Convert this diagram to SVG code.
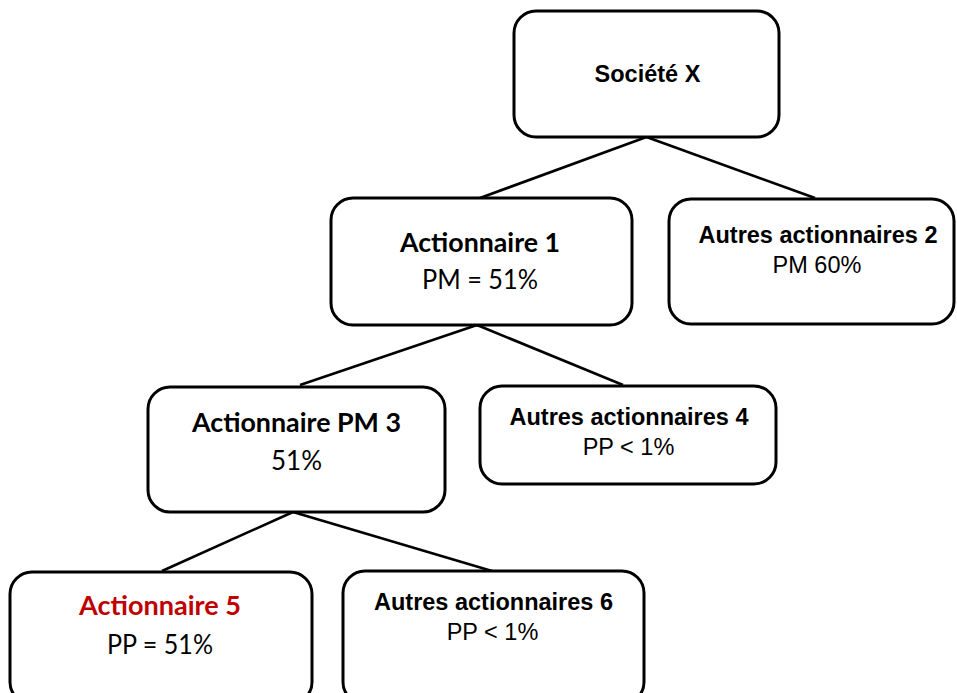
<svg xmlns="http://www.w3.org/2000/svg" width="957" height="693" viewBox="0 0 957 693">
<style>
.box{fill:#fff;stroke:#000;stroke-width:3}
.conn line{stroke:#000;stroke-width:2.6}
.a{font-family:"Liberation Sans",Arial,sans-serif;font-size:23.5px;text-anchor:middle;fill:#000}
.ab{font-family:"Liberation Sans",Arial,sans-serif;font-size:23.5px;font-weight:bold;text-anchor:middle;fill:#000}
.c{font-family:Lato,"Open Sans",sans-serif;font-size:27px;text-anchor:middle;fill:#000}
.cb{font-family:Lato,"Open Sans",sans-serif;font-size:27px;font-weight:bold;text-anchor:middle;fill:#000}
.red{fill:#C00000}
</style>
<rect width="957" height="693" fill="#fff"/>
<g id="connectors" class="conn">
<line x1="646.5" y1="137" x2="480" y2="198"/>
<line x1="646.5" y1="137" x2="815" y2="198"/>
<line x1="477" y1="325" x2="300" y2="385"/>
<line x1="477" y1="325" x2="623" y2="385"/>
<line x1="293" y1="512" x2="162" y2="571"/>
<line x1="293" y1="512" x2="492" y2="571"/>
</g>
<g id="societe-x">
<rect class="box" x="514" y="11" width="265" height="126" rx="22"/>
<text class="ab" x="647.5" y="82">Société X</text>
</g>
<g id="actionnaire-1">
<rect class="box" x="331" y="198" width="301" height="127" rx="22"/>
<text class="cb" x="480" y="252" textLength="160" lengthAdjust="spacingAndGlyphs">Actionnaire 1</text>
<text class="c" x="480" y="289" textLength="116" lengthAdjust="spacingAndGlyphs">PM = 51%</text>
</g>
<g id="autres-2">
<rect class="box" x="669" y="199" width="285" height="125" rx="22"/>
<text class="ab" x="818" y="243">Autres actionnaires 2</text>
<text class="a" x="817" y="273">PM 60%</text>
</g>
<g id="actionnaire-pm-3">
<rect class="box" x="148" y="387" width="297" height="125" rx="22"/>
<text class="cb" x="296.5" y="432" textLength="209" lengthAdjust="spacingAndGlyphs">Actionnaire PM 3</text>
<text class="c" x="296.5" y="470" textLength="51" lengthAdjust="spacingAndGlyphs">51%</text>
</g>
<g id="autres-4">
<rect class="box" x="480" y="386" width="296" height="98" rx="22"/>
<text class="ab" x="629" y="425">Autres actionnaires 4</text>
<text class="a" x="628.5" y="455">PP &lt; 1%</text>
</g>
<g id="actionnaire-5">
<rect class="box" x="10" y="572" width="302" height="132" rx="22"/>
<text class="cb red" x="160" y="615" textLength="162" lengthAdjust="spacingAndGlyphs">Actionnaire 5</text>
<text class="c" x="160" y="654" textLength="106" lengthAdjust="spacingAndGlyphs">PP = 51%</text>
</g>
<g id="autres-6">
<rect class="box" x="343" y="571" width="301" height="133" rx="22"/>
<text class="ab" x="493.5" y="610">Autres actionnaires 6</text>
<text class="a" x="492.5" y="640">PP &lt; 1%</text>
</g>
</svg>
